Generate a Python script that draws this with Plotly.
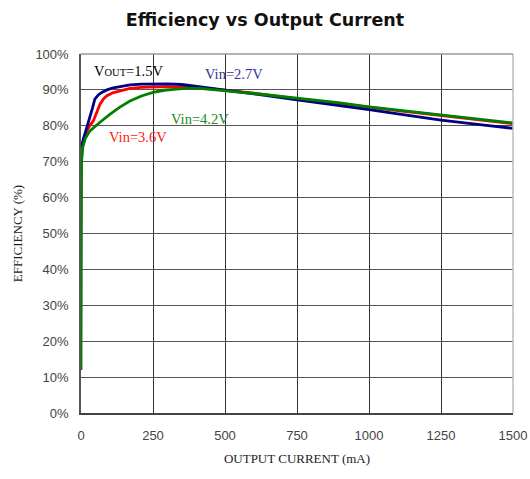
import plotly.graph_objects as go

# Output current (mA) and efficiency (%) for VOUT = 1.5V
i_27 = [2, 8, 20, 31, 40, 48, 60, 72, 90, 112, 140, 170, 210, 250, 300, 350,
        390, 450, 500, 600, 750, 900, 1000, 1100, 1250, 1400, 1500]
eff_27 = [74, 76.3, 79.5, 82.3, 85, 87.4, 88.6, 89.3, 90, 90.6, 91.0, 91.4,
          91.6, 91.7, 91.7, 91.5, 91.1, 90.5, 89.9, 88.9, 87.2, 85.7, 84.5,
          83.3, 81.6, 80.2, 79.3]

i_36 = [2, 8, 20, 30, 43, 55, 66, 78, 89, 110, 135, 170, 210, 250, 300, 350,
        400, 450, 500, 600, 750, 900, 1000, 1100, 1250, 1400, 1500]
eff_36 = [72, 75.8, 78.5, 80, 81.4, 84, 86, 87.5, 88.3, 89.2, 89.7, 90.4,
          90.7, 90.8, 90.9, 90.8, 90.6, 90.3, 89.9, 89.1, 87.5, 86.2, 85.2,
          84.2, 82.8, 81.4, 80.6]

i_42 = [0, 0.5, 1, 2, 6, 15, 31, 50, 66, 100, 135, 170, 210, 250, 290, 331,
        370, 412, 460, 505, 600, 750, 900, 1000, 1100, 1250, 1400, 1500]
eff_42 = [12, 40, 60, 70, 74, 76.5, 78.6, 80, 81, 83.2, 85.2, 86.9, 88.3,
          89.3, 89.9, 90.2, 90.4, 90.4, 90.1, 89.7, 89.0, 87.7, 86.4, 85.3,
          84.4, 82.9, 81.6, 80.8]

x_ticks = [0, 250, 500, 750, 1000, 1250, 1500]
y_ticks = [0, 10, 20, 30, 40, 50, 60, 70, 80, 90, 100]
y_labels = [f"{v}%" for v in y_ticks]

fig = go.Figure()
fig.add_trace(go.Scatter(x=i_36, y=eff_36, mode="lines", name="Vin=3.6V",
                         line=dict(color="#ff0000", width=2.8)))
fig.add_trace(go.Scatter(x=i_27, y=eff_27, mode="lines", name="Vin=2.7V",
                         line=dict(color="#000080", width=2.8)))
fig.add_trace(go.Scatter(x=i_42, y=eff_42, mode="lines", name="Vin=4.2V",
                         line=dict(color="#008000", width=2.8)))

serif = "Liberation Serif"

fig.add_annotation(x=38, y=95.3, xanchor="left", yanchor="middle", showarrow=False,
                   text="V<span style='font-size:10.5px'>OUT</span>=1.5V",
                   font=dict(family=serif, size=14.5, color="#000000"))
fig.add_annotation(x=423, y=94.4, xanchor="left", yanchor="middle", showarrow=False,
                   text="Vin=2.7V", font=dict(family=serif, size=14.5, color="#33339a"))
fig.add_annotation(x=90, y=76.9, xanchor="left", yanchor="middle", showarrow=False,
                   text="Vin=3.6V", font=dict(family=serif, size=14.5, color="#ff2020"))
fig.add_annotation(x=305, y=81.9, xanchor="left", yanchor="middle", showarrow=False,
                   text="Vin=4.2V", font=dict(family=serif, size=14.5, color="#1a8c1a"))

# right-hand frame edge
fig.add_shape(type="line", xref="paper", yref="paper", x0=1, x1=1, y0=0, y1=1,
              line=dict(color="#bbbbbb", width=1.5), layer="above")
# top frame edge
fig.add_shape(type="line", xref="paper", yref="paper", x0=0, x1=1, y0=1, y1=1,
              line=dict(color="#999999", width=1.5), layer="above")

fig.update_layout(
    width=530, height=479,
    margin=dict(l=81, r=17, t=54, b=66, autoexpand=False),
    paper_bgcolor="white", plot_bgcolor="white",
    showlegend=False,
    title=dict(text="<b>Efficiency vs Output Current</b>", x=0.5, xanchor="center",
               y=1 - 20 / 479, yanchor="middle", yref="container",
               font=dict(family="DejaVu Sans", size=17.5, color="#111111")),
    xaxis=dict(range=[0, 1500], tickvals=x_ticks, ticktext=[str(v) for v in x_ticks],
               showgrid=True, gridcolor="#333333", gridwidth=1.2,
               showline=True, linecolor="#444444", linewidth=1.5,
               zeroline=False, ticks="", ticklabelstandoff=10, automargin=False,
               tickfont=dict(family="Liberation Sans", size=13, color="#444444"),
               title=dict(text="OUTPUT CURRENT (mA)", standoff=12,
                          font=dict(family=serif, size=13, color="#222222"))),
    yaxis=dict(range=[0, 100], tickvals=y_ticks, ticktext=y_labels,
               showgrid=True, gridcolor="#555555", gridwidth=1.2,
               showline=True, linecolor="#555555", linewidth=1.5,
               zeroline=False, ticks="", ticklabelstandoff=8, automargin=False,
               tickfont=dict(family="Liberation Sans", size=13, color="#444444"),
               title=dict(text="EFFICIENCY (%)", standoff=10,
                          font=dict(family=serif, size=13, color="#222222"))),
)

fig.write_html("out.html")
